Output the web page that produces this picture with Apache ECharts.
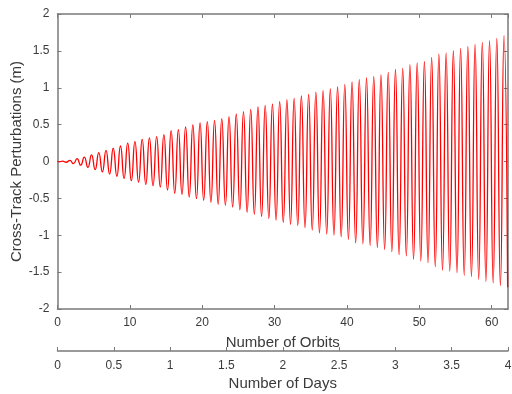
<!DOCTYPE html>
<html>
<head>
<meta charset="utf-8">
<script src="https://cdn.jsdelivr.net/npm/echarts@6/dist/echarts.min.js"></script>
<style>
  html, body { margin: 0; padding: 0; background: #fff; }
  #chart { width: 512px; height: 394px; }
</style>
</head>
<body>
<div id="chart"></div>
<script>
// one trough and one peak per orbit
const troughPhase = 0.2;
const peakPhase = 0.7;
const troughs = [
  -0.005, -0.01, -0.03, -0.05, -0.08, -0.11, -0.14, -0.17, -0.20, -0.23,
  -0.26, -0.28, -0.31, -0.328, -0.346, -0.386, -0.431, -0.445, -0.481, -0.504,
  -0.526, -0.553, -0.580, -0.594, -0.617, -0.654, -0.689, -0.716, -0.748, -0.774,
  -0.793, -0.829, -0.852, -0.866, -0.897, -0.929, -0.969, -0.983, -0.997, -1.019,
  -1.055, -1.101, -1.115, -1.137, -1.164, -1.191, -1.223, -1.264, -1.281, -1.326,
  -1.349, -1.372, -1.426, -1.475, -1.485, -1.508, -1.543, -1.562, -1.597, -1.624,
  -1.647, -1.684, -1.706
];
const peaks = [
  0.005, 0.015, 0.04, 0.06, 0.09, 0.12, 0.15, 0.18, 0.21, 0.25,
  0.27, 0.30, 0.32, 0.336, 0.364, 0.418, 0.431, 0.468, 0.495, 0.522,
  0.540, 0.558, 0.581, 0.608, 0.644, 0.676, 0.708, 0.739, 0.760, 0.780,
  0.816, 0.838, 0.857, 0.888, 0.911, 0.942, 0.960, 0.983, 1.010, 1.042,
  1.078, 1.109, 1.132, 1.150, 1.175, 1.209, 1.250, 1.264, 1.313, 1.336,
  1.358, 1.412, 1.458, 1.474, 1.502, 1.535, 1.562, 1.589, 1.616, 1.639,
  1.670, 1.706
];
const orbitMax = 62.25;
const dayMax = 4;
const orbitTicks = [0, 10, 20, 30, 40, 50, 60];

const points = [[0, 0]];
for (let k = 0; k < troughs.length; k++) {
  points.push([k + troughPhase, troughs[k]]);
  if (k < peaks.length) points.push([k + peakPhase, peaks[k]]);
}

const axisColor = '#7a7a7a';
const textColor = '#3a3a3a';
const font = 'Liberation Sans, Arial, sans-serif';

const chart = echarts.init(document.getElementById('chart'));
chart.setOption({
  animation: false,
  textStyle: { fontFamily: font },
  grid: [
    { left: 57.5, right: 4, top: 14, bottom: 85, outerBoundsMode: 'none', containLabel: false },
    { left: 57.5, right: 4, top: 350, height: 1, outerBoundsMode: 'none', containLabel: false }
  ],
  xAxis: [
    {
      type: 'value', gridIndex: 0, position: 'bottom',
      min: 0, max: orbitMax, interval: 10,
      name: 'Number of Orbits', nameLocation: 'middle', nameGap: 26,
      nameMoveOverlap: false,
      nameTextStyle: { color: textColor, fontSize: 15, fontFamily: font },
      axisLine: { onZero: false, lineStyle: { color: axisColor, width: 1.5 } },
      axisTick: { inside: true, length: 4, lineStyle: { color: axisColor } },
      axisLabel: {
        color: textColor, fontSize: 12, margin: 8, fontFamily: font,
        showMaxLabel: false,
        formatter: v => orbitTicks.includes(v) ? String(v) : ''
      },
      splitLine: { show: false }
    },
    {
      type: 'value', gridIndex: 0, position: 'top',
      min: 0, max: orbitMax, interval: 10,
      axisLine: { onZero: false, lineStyle: { color: axisColor, width: 1.5 } },
      axisTick: { inside: true, length: 4, lineStyle: { color: axisColor } },
      axisLabel: { show: false },
      splitLine: { show: false }
    },
    {
      type: 'value', gridIndex: 1, position: 'bottom',
      min: 0, max: dayMax, interval: 0.5,
      name: 'Number of Days', nameLocation: 'middle', nameGap: 25,
      nameMoveOverlap: false,
      nameTextStyle: { color: textColor, fontSize: 15, fontFamily: font },
      axisLine: { onZero: false, lineStyle: { color: axisColor, width: 1.5 } },
      axisTick: { inside: true, length: 4, lineStyle: { color: axisColor } },
      axisLabel: { color: textColor, fontSize: 12, margin: 9, fontFamily: font },
      splitLine: { show: false }
    }
  ],
  yAxis: [
    {
      type: 'value', gridIndex: 0, position: 'left',
      min: -2, max: 2, interval: 0.5,
      name: 'Cross-Track Perturbations (m)', nameLocation: 'middle', nameGap: 33,
      nameMoveOverlap: false,
      nameTextStyle: { color: textColor, fontSize: 15, fontFamily: font },
      axisLine: { show: true, onZero: false, lineStyle: { color: axisColor, width: 1.5 } },
      axisTick: { show: true, inside: true, length: 4, lineStyle: { color: axisColor } },
      axisLabel: { color: textColor, fontSize: 12, margin: 8, fontFamily: font },
      splitLine: { show: false }
    },
    {
      type: 'value', gridIndex: 0, position: 'right',
      min: -2, max: 2, interval: 0.5,
      axisLine: { show: true, onZero: false, lineStyle: { color: axisColor, width: 1.5 } },
      axisTick: { show: true, inside: true, length: 4, lineStyle: { color: axisColor } },
      axisLabel: { show: false },
      splitLine: { show: false }
    },
    {
      type: 'value', gridIndex: 1, show: false
    }
  ],
  series: [
    {
      type: 'line',
      xAxisIndex: 0, yAxisIndex: 0,
      data: points,
      showSymbol: false,
      symbol: 'none',
      smooth: 0.55,
      lineStyle: { color: '#ff0000', width: 1.3 },
      clip: true
    }
  ]
});
</script>
</body>
</html>
